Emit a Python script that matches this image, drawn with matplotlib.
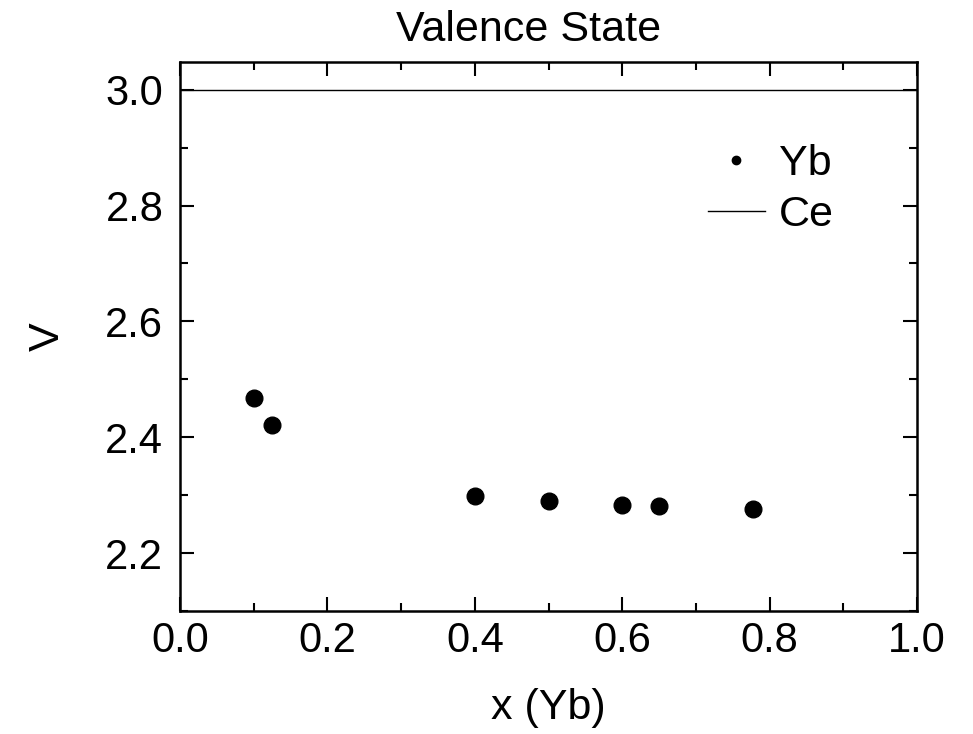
import matplotlib
matplotlib.use("Agg")
import matplotlib.pyplot as plt
from matplotlib.ticker import MultipleLocator, FormatStrFormatter

x_yb = [0.1, 0.125, 0.4, 0.5, 0.6, 0.65, 0.778]
v_yb = [2.468, 2.421, 2.298, 2.290, 2.283, 2.281, 2.276]
x_ce = [0.0, 1.0]
v_ce = [3.0, 3.0]

plt.rcParams['font.family'] = ['Liberation Sans', 'DejaVu Sans']
fig = plt.figure(figsize=(9.73, 7.34), dpi=100)
ax = fig.add_axes([0.185, 0.1676, 0.7575, 0.748])

ax.plot(x_yb, v_yb, 'o', color='black', markersize=12, linestyle='none', label='Yb')
ax.plot(x_ce, v_ce, '-', color='black', linewidth=1.0, label='Ce')

ax.set_xlim(0.0, 1.0)
ax.set_ylim(2.1, 3.048)
ax.xaxis.set_major_locator(MultipleLocator(0.2))
ax.xaxis.set_minor_locator(MultipleLocator(0.1))
ax.yaxis.set_major_locator(MultipleLocator(0.2))
ax.yaxis.set_minor_locator(MultipleLocator(0.1))
ax.xaxis.set_major_formatter(FormatStrFormatter('%.1f'))
ax.yaxis.set_major_formatter(FormatStrFormatter('%.1f'))
ax.tick_params(which='both', direction='in', top=True, right=True, width=1.5, labelsize=30)
ax.tick_params(axis='y', pad=12)
ax.tick_params(axis='x', pad=7)
ax.tick_params(which='major', length=10)
ax.tick_params(which='minor', length=6)
for s in ax.spines.values():
    s.set_linewidth(1.8)

ax.set_title('Valence State', fontsize=31, pad=15, x=0.473)
ax.set_xlabel('x (Yb)', fontsize=31, labelpad=20)
ax.set_ylabel('V', fontsize=31, labelpad=27)

leg = ax.legend(loc='upper left', bbox_to_anchor=(0.716, 0.85), frameon=False, fontsize=31,
                markerscale=0.5, handlelength=1.33, handletextpad=0.33, labelspacing=0.25,
                borderpad=0, borderaxespad=0)

fig.savefig('out.png', dpi=100)
